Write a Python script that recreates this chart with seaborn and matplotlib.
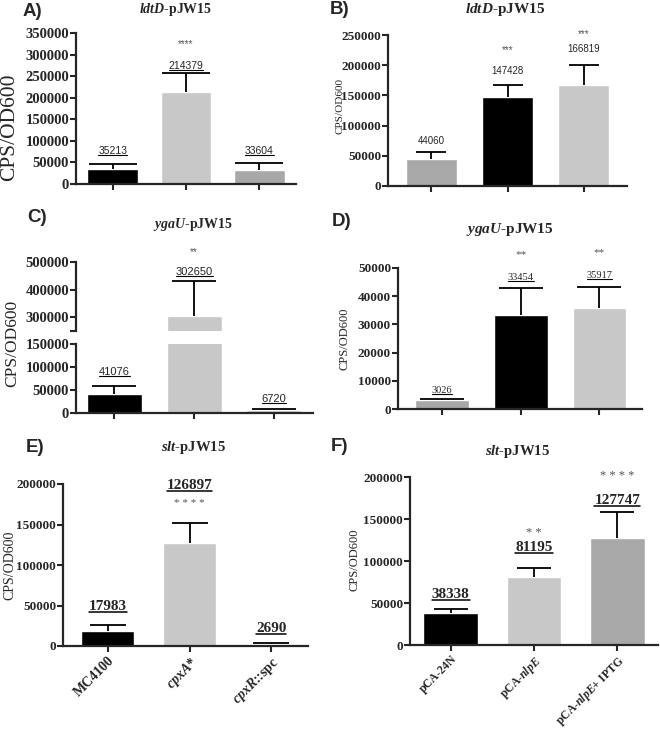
import numpy as np
import matplotlib
matplotlib.use("Agg")
import matplotlib.pyplot as plt
from matplotlib.lines import Line2D
import seaborn as sns

# ---- data ----
strains = ["MC4100", "$cpxA$*", "$cpxR$::spc"]
plasmids = ["pCA-24N", "pCA-$nlpE$", "pCA-$nlpE$+ IPTG"]

ldtD_strain = [35213, 214379, 33604]
ldtD_strain_err = [12000, 43000, 15000]
ldtD_strain_sig = ["", "****", ""]

ldtD_plasmid = [44060, 147428, 166819]
ldtD_plasmid_err = [13000, 20000, 33000]
ldtD_plasmid_sig = ["", "***", "***"]

ygaU_strain = [41076, 302650, 6720]
ygaU_strain_err = [18000, 127000, 2000]
ygaU_strain_sig = ["", "**", ""]

ygaU_plasmid = [3026, 33454, 35917]
ygaU_plasmid_err = [600, 9300, 7400]
ygaU_plasmid_sig = ["", "**", "**"]

slt_strain = [17983, 126897, 2690]
slt_strain_err = [8500, 25000, 800]
slt_strain_sig = ["", "* * * *", ""]

slt_plasmid = [38338, 81195, 127747]
slt_plasmid_err = [4700, 11000, 31000]
slt_plasmid_sig = ["", "* *", "* * * *"]

BLACK, LIGHT, MID = "#000000", "#c8c8c8", "#a8a8a8"

# ---- style ----
sns.set_style("ticks")
SERIF = ["Liberation Serif", "DejaVu Serif"]
SANS = ["Liberation Sans", "DejaVu Sans"]
plt.rcParams["font.family"] = SERIF
plt.rcParams["mathtext.fontset"] = "custom"
plt.rcParams["mathtext.rm"] = "Liberation Serif"
plt.rcParams["mathtext.it"] = "Liberation Serif:italic:bold"
plt.rcParams["mathtext.bf"] = "Liberation Serif:bold"

W, H = 660, 732
fig = plt.figure(figsize=(6.6, 7.32), dpi=100)


def px_rect(x0, x1, y0, y1):
    return [x0 / W, 1 - y1 / H, (x1 - x0) / W, (y1 - y0) / H]


underlined = []


def bars(ax, cats, vals, errs, colors, width, capsize, xlim):
    sns.barplot(x=cats, y=vals, hue=cats, palette=colors, order=cats, hue_order=cats,
                width=width, errorbar=None, legend=False, saturation=1, ax=ax)
    _, caps, _ = ax.errorbar(range(len(vals)), vals, yerr=[np.zeros(len(vals)), errs], fmt="none",
                             ecolor="black", elinewidth=1.3, capsize=capsize, capthick=1.3)
    # keep only the upper caps
    caps[0].set_visible(False)
    ax.set_xlim(xlim)
    ax.set_xlabel("")
    ax.set_ylabel("")


def style(ax, ticks, fs, xlabels=None, xfs=9.5):
    sns.despine(ax=ax)
    for s in ["left", "bottom"]:
        ax.spines[s].set_linewidth(1.6)
    ax.tick_params(width=1.5, length=4, direction="out")
    ax.tick_params(axis="y", pad=1)
    ax.tick_params(axis="x", pad=2)
    ax.set_yticks(ticks)
    ax.set_yticklabels([str(t) for t in ticks], fontsize=fs, fontweight="bold")
    ax.set_xticks(range(3))
    if xlabels is None:
        ax.set_xticklabels([])
    else:
        ax.set_xticklabels(xlabels, rotation=45, ha="right", rotation_mode="anchor",
                           fontsize=xfs, fontweight="bold")


def labels(ax, vals, errs, sig, lab_off, sig_off, lab_kw, sig_kw, uline=True, idx=None):
    rng = range(len(vals)) if idx is None else idx
    for i in rng:
        top = vals[i] + errs[i]
        t = ax.annotate(str(vals[i]), (i, top), xytext=(0, lab_off[i]), textcoords="offset pixels",
                        ha="center", va="center", **lab_kw)
        if uline:
            underlined.append(t)
        if sig[i]:
            ax.annotate(sig[i], (i, top), xytext=(0, sig_off[i]), textcoords="offset pixels",
                        ha="center", va="center", color="#555555", **sig_kw)


sans_lab = dict(fontsize=7.5, family=SANS)
sans_sig = dict(fontsize=7, family=SANS)

# ---- A ----
axA = fig.add_axes(px_rect(76, 296, 33, 184))
bars(axA, strains, ldtD_strain, ldtD_strain_err, [BLACK, LIGHT, MID], 0.69, 17, (-0.5, 2.5))
axA.set_ylim(0, 350000)
style(axA, np.arange(0, 350001, 50000), 10.5)
labels(axA, ldtD_strain, ldtD_strain_err, ldtD_strain_sig, [13, 7, 12], [0, 29, 0], sans_lab, sans_sig)

# ---- B ----
axB = fig.add_axes(px_rect(388, 627, 35, 186))
bars(axB, plasmids, ldtD_plasmid, ldtD_plasmid_err, [MID, BLACK, LIGHT], 0.68, 11, (-0.57, 2.57))
axB.set_ylim(0, 250000)
style(axB, np.arange(0, 250001, 50000), 9.5)
labels(axB, ldtD_plasmid, ldtD_plasmid_err, ldtD_plasmid_sig, [11, 14, 16], [0, 35, 31],
       dict(fontsize=7, family=SANS), sans_sig, uline=False)

# ---- C (broken axis) ----
axCt = fig.add_axes(px_rect(76, 313, 262, 331))
axCb = fig.add_axes(px_rect(76, 313, 344, 413))
for ax in (axCt, axCb):
    bars(ax, strains, ygaU_strain, ygaU_strain_err, [BLACK, LIGHT, LIGHT], 0.69, 16, (-0.48, 2.49))
axCt.set_ylim(250000, 500000)
axCb.set_ylim(0, 150000)
style(axCt, [250000, 300000, 400000, 500000], 10.5)
axCt.set_yticklabels(["", "300000", "400000", "500000"], fontsize=10.5, fontweight="bold")
axCt.spines["bottom"].set_visible(False)
axCt.tick_params(axis="x", length=0)
style(axCb, np.arange(0, 150001, 50000), 10.5)
lab_C = dict(fontsize=8, family=SANS)
labels(axCb, ygaU_strain, ygaU_strain_err, ygaU_strain_sig, [14, 0, 10], [0, 0, 0], lab_C, sans_sig, idx=[0, 2])
labels(axCt, ygaU_strain, ygaU_strain_err, ygaU_strain_sig, [0, 9, 0], [0, 29, 0], lab_C, sans_sig, idx=[1])

# ---- D ----
axD = fig.add_axes(px_rect(398, 642, 268, 409))
bars(axD, plasmids, ygaU_plasmid, ygaU_plasmid_err, [MID, BLACK, LIGHT], 0.68, 16, (-0.56, 2.54))
axD.set_ylim(0, 50000)
style(axD, np.arange(0, 50001, 10000), 9.5)
labels(axD, ygaU_plasmid, ygaU_plasmid_err, ygaU_plasmid_sig, [8, 11, 11], [0, 34, 34],
       dict(fontsize=7.5), dict(fontsize=8))

# ---- E ----
axE = fig.add_axes(px_rect(63, 308, 484, 646))
bars(axE, strains, slt_strain, slt_strain_err, [BLACK, LIGHT, MID], 0.65, 13, (-0.55, 2.45))
axE.set_ylim(0, 200000)
style(axE, np.arange(0, 200001, 50000), 9.5, xlabels=strains, xfs=10)
labels(axE, slt_strain, slt_strain_err, slt_strain_sig, [18, 37, 15], [0, 19, 0],
       dict(fontsize=11, fontweight="bold"), dict(fontsize=8))

# ---- F ----
axF = fig.add_axes(px_rect(410, 658, 477, 645))
bars(axF, plasmids, slt_plasmid, slt_plasmid_err, [BLACK, LIGHT, MID], 0.66, 12, (-0.49, 2.49))
axF.set_ylim(0, 200000)
style(axF, np.arange(0, 200001, 50000), 9.5, xlabels=plasmids, xfs=8.5)
labels(axF, slt_plasmid, slt_plasmid_err, slt_plasmid_sig, [14, 20, 11], [0, 35, 36],
       dict(fontsize=11, fontweight="bold"), dict(fontsize=9))

# ---- titles, panel letters, y labels ----
titles = [("A)", 32, 12, "$ldtD$-pJW15", 176, 10, 10),
          ("B)", 340, 10, "$ldtD$-pJW15", 505, 10, 11),
          ("C)", 37, 218, "$ygaU$-pJW15", 193, 225, 10),
          ("D)", 342, 222, "$ygaU$-pJW15", 510, 230, 11),
          ("E)", 35, 448, "$slt$-pJW15", 193, 448, 10.5),
          ("F)", 340, 447, "$slt$-pJW15", 517, 452, 10.5)]
for letter, lx, ly, title, tx, ty, tfs in titles:
    fig.text(lx / W, 1 - ly / H, letter, fontsize=13.5, fontweight="bold", ha="center", va="center",
             family=SANS)
    fig.text(tx / W, 1 - ty / H, title, fontsize=tfs, fontweight="bold", ha="center", va="center")

for x, y, fs in [(10, 127, 15.5), (340, 106, 8), (12, 343, 12.5), (345, 339, 9), (10, 565, 10), (354, 560, 9)]:
    fig.text(x / W, 1 - y / H, "CPS/OD600", rotation=90, fontsize=fs, ha="center", va="center",
             family=SERIF)

# underline the value labels
fig.canvas.draw()
r = fig.canvas.get_renderer()
for t in underlined:
    bb = t.get_window_extent(r)
    y = bb.y0 + 1
    fig.add_artist(Line2D([bb.x0 / W, bb.x1 / W], [y / H, y / H], transform=fig.transFigure,
                          color="black", lw=1.1 if t.get_fontsize() > 9 else 0.8))

fig.savefig("out.png", dpi=100)
